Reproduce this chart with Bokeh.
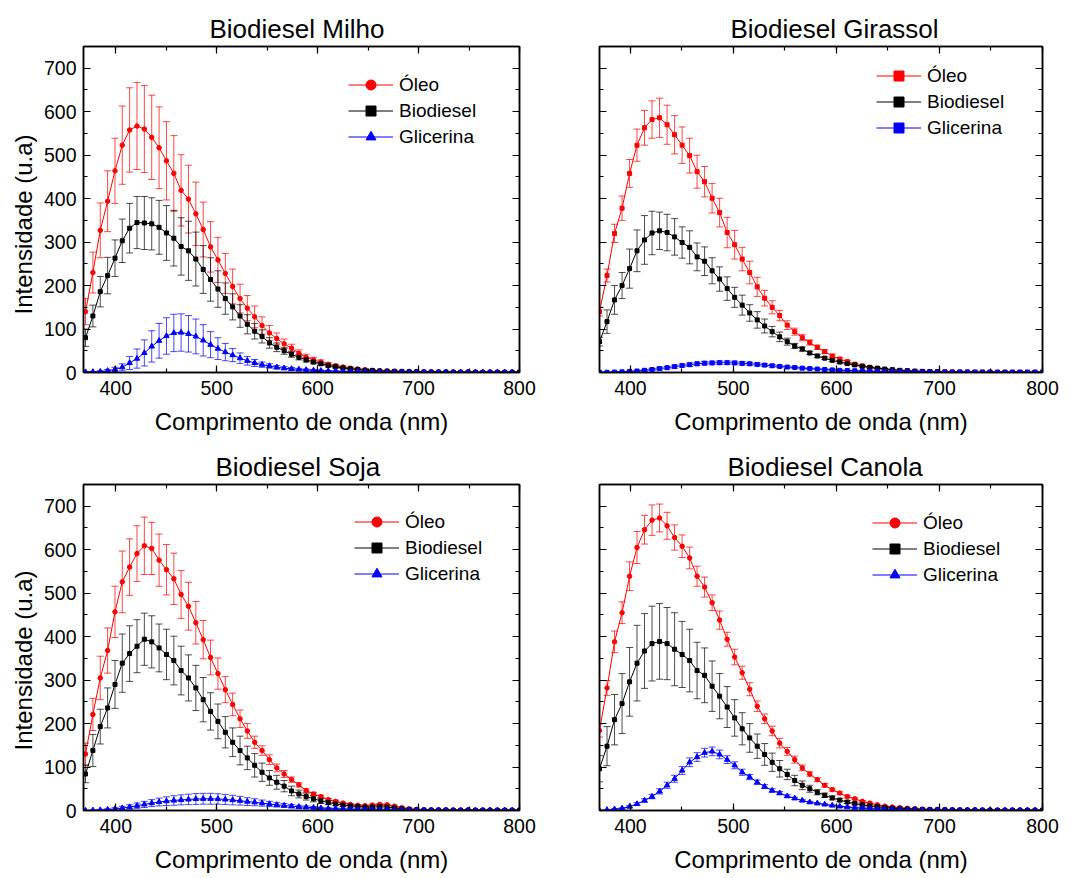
from bokeh.plotting import figure
from bokeh.models import (ColumnDataSource, Whisker, TeeHead, Legend, LegendItem,
                          LinearAxis, Range1d, SingleIntervalTicker, Title,
                          CustomJSTickFormatter)
from bokeh.layouts import column, row
from bokeh.embed import file_html
from bokeh.resources import INLINE

FONT = "Liberation Sans"

wavelength = [370.0, 377.3, 384.6, 391.9, 399.2, 406.4, 413.7, 421.0, 428.3, 435.6,
              442.9, 450.2, 457.5, 464.7, 472.0, 479.3, 486.6, 493.9, 501.2, 508.5,
              515.8, 523.1, 530.3, 537.6, 544.9, 552.2, 559.5, 566.8, 574.1, 581.4,
              588.6, 595.9, 603.2, 610.5, 617.8, 625.1, 632.4, 639.7, 646.9, 654.2,
              661.5, 668.8, 676.1, 683.4, 690.7, 698.0, 705.3, 712.5, 719.8, 727.1,
              734.4, 741.7, 749.0, 756.3, 763.6, 770.8, 778.1, 785.4, 792.7, 800.0]

series_names = ["Óleo", "Biodiesel", "Glicerina"]

# ---------------- Biodiesel Milho ----------------
milho_oleo = [140, 230, 327, 394, 464, 523, 558, 567, 560, 541,
              517, 487, 458, 419, 399, 365, 329, 289, 259, 228,
              198, 170, 148, 128, 108, 91, 78, 66, 56, 44,
              35, 29, 24, 19, 15.5, 12.5, 10, 8, 6, 5,
              4, 3.5, 3, 2.5, 2, 2, 1.5, 1.5, 1, 1,
              1, 1, 1, 1, 0.5, 0.5, 0.5, 0.5, 0.5, 0.5]
milho_oleo_err = [30, 47, 63, 70, 75, 90, 97, 100, 100, 97,
                  94, 90, 87, 82, 78, 73, 63, 58, 52, 46,
                  40, 33, 29, 25, 20, 17, 13, 11, 9, 8,
                  7, 6, 5, 4, 3.5, 3, 2.5, 2, 2, 1.5,
                  1, 1, 1, 1, 1, 1, 1, 1, 1, 1,
                  1, 1, 1, 1, 1, 1, 1, 1, 1, 1]
milho_bio = [80, 130, 186, 223, 263, 303, 332, 345, 344, 342,
             334, 321, 309, 290, 280, 261, 237, 214, 192, 170,
             151, 130, 111, 95, 83, 68, 58, 50, 42, 35,
             29, 24, 20, 16, 13, 10.5, 8.5, 7, 5.5, 4.5,
             3.5, 3, 2.5, 2, 1.5, 1.5, 1, 1, 1, 1,
             0.5, 0.5, 0.5, 0.5, 0.5, 0.5, 0.5, 0.5, 0.5, 0.5]
milho_bio_err = [20, 25, 35, 42, 42, 50, 57, 60, 61, 60,
                 62, 63, 64, 66, 68, 62, 55, 50, 42, 36,
                 30, 26, 22, 18, 15, 12, 10, 8, 7, 6,
                 5, 4, 3.5, 3, 2.5, 2, 2, 1.5, 1.5, 1,
                 1, 1, 1, 1, 1, 1, 1, 1, 1, 1,
                 0.5, 0.5, 0.5, 0.5, 0.5, 0.5, 0.5, 0.5, 0.5, 0.5]
milho_gli = [1, 1.5, 2, 4, 7, 12, 22, 32, 45, 60,
             73, 84, 91, 92, 89, 83, 74, 64, 55, 47,
             40, 33, 27, 22, 18, 15, 12, 10, 8.5, 7,
             6, 5, 4, 3.5, 3, 2.5, 2, 2, 1.5, 1.5,
             1, 1, 1, 1, 1, 0.5, 0.5, 0.5, 0.5, 0.5,
             0.5, 0.5, 0.5, 0.5, 0.5, 0.5, 0.5, 0.5, 0.5, 0.5]
milho_gli_err = [1, 1, 2, 3, 5, 8, 15, 22, 30, 36,
                 40, 42, 43, 43, 42, 40, 36, 30, 25, 20,
                 15, 12, 10, 8, 6, 5, 4, 3.5, 3, 2.5,
                 2, 2, 1.5, 1.5, 1, 1, 1, 1, 1, 1,
                 0.5, 0.5, 0.5, 0.5, 0.5, 0.5, 0.5, 0.5, 0.5, 0.5,
                 0.5, 0.5, 0.5, 0.5, 0.5, 0.5, 0.5, 0.5, 0.5, 0.5]

# ---------------- Biodiesel Girassol ----------------
girassol_oleo = [140, 223, 320, 378, 458, 523, 563, 582, 586, 570,
                 547, 523, 499, 462, 439, 401, 368, 322, 294, 261,
                 230, 197, 171, 150, 131, 109, 94, 80, 69, 58,
                 48, 38, 31, 25, 19, 15, 11.5, 9, 7, 5.5,
                 4.5, 3.8, 3, 2.5, 2, 1.5, 1.5, 1, 1, 1,
                 1, 1, 0.5, 0.5, 0.5, 0.5, 0.5, 0.5, 0.5, 0.5]
girassol_oleo_err = [10, 15, 21, 28, 32, 37, 40, 43, 45, 45,
                     44, 42, 40, 38, 35, 34, 33, 35, 33, 27,
                     26, 22, 18, 15, 12, 10, 8, 7, 6, 5,
                     4, 4, 3, 3, 2, 2, 1.5, 1.5, 1, 1,
                     1, 1, 1, 1, 1, 1, 1, 1, 1, 1,
                     1, 1, 1, 1, 1, 1, 1, 1, 1, 1]
girassol_bio = [71, 117, 167, 200, 239, 280, 305, 321, 326, 322,
                312, 299, 288, 266, 256, 234, 215, 193, 173, 155,
                137, 121, 107, 94, 82, 71, 61, 54, 45, 38,
                33, 28, 24, 20.5, 17.5, 14.5, 12, 10, 8, 6.5,
                5, 4, 3, 2.5, 2, 1.5, 1, 1, 1, 1,
                0.5, 0.5, 0.5, 0.5, 0.5, 0.5, 0.5, 0.5, 0.5, 0.5]
girassol_bio_err = [10, 27, 33, 30, 45, 48, 56, 50, 43, 42,
                    42, 36, 38, 32, 33, 30, 28, 27, 23, 23,
                    19, 19, 16, 12, 11, 8, 6, 5, 4, 4,
                    3, 3, 2.5, 2, 2, 1.5, 1.5, 1, 1, 1,
                    1, 1, 1, 1, 1, 1, 1, 1, 1, 1,
                    0.5, 0.5, 0.5, 0.5, 0.5, 0.5, 0.5, 0.5, 0.5, 0.5]
girassol_gli = [0.5, 0.5, 1, 1.5, 2.5, 3.5, 5, 7, 9, 11,
                13.5, 16, 18, 20, 21.5, 22, 22.5, 22.5, 22, 21,
                20, 18.5, 17, 15.5, 14, 12.5, 11.5, 10, 9, 8,
                7, 6, 5, 4.5, 4, 3.5, 3, 2.5, 2, 2,
                1.5, 1.5, 1, 1, 1, 1, 0.5, 0.5, 0.5, 0.5,
                0.5, 0.5, 0.5, 0.5, 0.5, 0.5, 0.5, 0.5, 0.5, 0.5]
girassol_gli_err = [0.5, 0.5, 0.5, 1, 1, 1.5, 2, 2.5, 3, 3,
                    3.5, 3.5, 4, 4, 4, 4, 4, 4, 4, 4,
                    3.5, 3.5, 3, 3, 2.5, 2.5, 2, 2, 2, 1.5,
                    1.5, 1.5, 1, 1, 1, 1, 1, 1, 1, 1,
                    0.5, 0.5, 0.5, 0.5, 0.5, 0.5, 0.5, 0.5, 0.5, 0.5,
                    0.5, 0.5, 0.5, 0.5, 0.5, 0.5, 0.5, 0.5, 0.5, 0.5]

# ---------------- Biodiesel Soja ----------------
soja_oleo = [130, 221, 305, 368, 457, 526, 560, 591, 609, 603,
             576, 554, 533, 497, 470, 432, 393, 352, 315, 278,
             244, 211, 183, 157, 138, 117, 98, 84, 71, 59,
             46, 38, 32, 25, 21, 17, 14, 12, 11, 12.5,
             14, 13, 10, 6.5, 4, 2.5, 1.5, 1, 1, 1,
             0.5, 0.5, 0.5, 0.5, 0.5, 0.5, 0.5, 0.5, 0.5, 0.5]
soja_oleo_err = [25, 37, 50, 52, 59, 71, 65, 64, 66, 60,
                 60, 58, 59, 55, 55, 49, 44, 40, 36, 30,
                 26, 20, 17, 14, 11, 11, 9, 8, 6, 5,
                 4, 4, 3, 3, 2.5, 2, 2, 2, 2, 2,
                 2, 2, 2, 1.5, 1.5, 1, 1, 1, 1, 1,
                 1, 1, 1, 1, 1, 1, 1, 1, 1, 1]
soja_bio = [84, 138, 193, 236, 290, 339, 361, 378, 394, 388,
            374, 359, 345, 322, 305, 282, 255, 228, 205, 180,
            157, 138, 121, 104, 88, 75, 65, 56, 45, 38,
            32, 27, 22, 18.5, 15, 12.5, 10.5, 9, 8, 8,
            8.5, 8, 6, 4, 2.5, 1.5, 1, 1, 1, 1,
            0.5, 0.5, 0.5, 0.5, 0.5, 0.5, 0.5, 0.5, 0.5, 0.5]
soja_bio_err = [20, 37, 40, 46, 55, 67, 64, 61, 60, 60,
                55, 58, 56, 56, 53, 52, 51, 43, 40, 36,
                33, 33, 27, 27, 21, 17, 16, 13, 11, 9,
                8, 7, 6, 5, 4, 3.5, 3, 3, 3, 3,
                3, 3, 2.5, 2, 1.5, 1, 1, 1, 1, 1,
                0.5, 0.5, 0.5, 0.5, 0.5, 0.5, 0.5, 0.5, 0.5, 0.5]
soja_gli = [0, 0.5, 1, 2, 3.5, 5.5, 8, 11, 14, 17,
            19.5, 21.5, 23, 24.5, 25.5, 26.5, 27, 27, 26.5, 25.5,
            24, 22.5, 20.5, 19, 17, 15, 13, 11.5, 10, 8.5,
            7.5, 6.5, 5.5, 4.5, 4, 3.5, 3, 2.5, 2, 2,
            1.5, 1.5, 1, 1, 1, 1, 0.5, 0.5, 0.5, 0.5,
            0.5, 0.5, 0.5, 0.5, 0.5, 0.5, 0.5, 0.5, 0.5, 0.5]
soja_gli_err = [0.5, 1, 1.5, 2, 3, 4, 5, 6, 7, 8,
                9, 10, 11, 11.5, 12, 12.5, 12.5, 12.5, 12, 11.5,
                11, 10, 9, 8, 7, 6, 5, 4.5, 4, 3.5,
                3, 2.5, 2, 2, 1.5, 1.5, 1, 1, 1, 1,
                0.5, 0.5, 0.5, 0.5, 0.5, 0.5, 0.5, 0.5, 0.5, 0.5,
                0.5, 0.5, 0.5, 0.5, 0.5, 0.5, 0.5, 0.5, 0.5, 0.5]

# ---------------- Biodiesel Canola ----------------
canola_oleo = [184, 282, 388, 455, 539, 605, 646, 668, 673, 655,
               628, 608, 581, 539, 514, 478, 438, 394, 353, 317,
               279, 240, 211, 183, 155, 136, 117, 98, 84, 71,
               58, 48, 40, 32, 27, 21, 17, 13, 10, 8,
               6.5, 5, 4, 3, 2.5, 2, 1.5, 1.5, 1, 1,
               1, 1, 0.5, 0.5, 0.5, 0.5, 0.5, 0.5, 0.5, 0.5]
canola_oleo_err = [15, 17, 25, 25, 33, 37, 33, 35, 32, 31,
                   29, 26, 25, 23, 23, 18, 21, 16, 18, 15,
                   15, 12, 11, 11, 11, 9, 8, 6.5, 5, 4.5,
                   4, 3.5, 3, 3, 2.5, 2, 2, 1.5, 1.5, 1,
                   1, 1, 1, 1, 1, 1, 1, 1, 1, 1,
                   1, 1, 1, 1, 1, 1, 1, 1, 1, 1]
canola_bio = [96, 148, 209, 246, 296, 339, 367, 384, 389, 384,
              371, 359, 345, 322, 311, 286, 263, 238, 213, 188,
              167, 148, 129, 111, 96, 83, 69, 58, 50, 42,
              35, 29, 24, 19.5, 16, 13, 10.5, 8.5, 7, 5.5,
              4.5, 3.5, 3, 2.5, 2, 1.5, 1.5, 1, 1, 1,
              1, 0.5, 0.5, 0.5, 0.5, 0.5, 0.5, 0.5, 0.5, 0.5]
canola_bio_err = [30, 45, 58, 69, 79, 87, 86, 86, 87, 83,
                  84, 76, 72, 65, 63, 58, 52, 47, 42, 37,
                  33, 28, 25, 21, 19, 12, 12, 10, 8, 6,
                  5, 4.5, 4, 3.5, 3, 2.5, 2, 2, 1.5, 1.5,
                  1, 1, 1, 1, 1, 1, 1, 1, 1, 1,
                  0.5, 0.5, 0.5, 0.5, 0.5, 0.5, 0.5, 0.5, 0.5, 0.5]
canola_gli = [0, 1.5, 3, 5, 9, 15, 23, 32, 44, 58,
              73, 92, 111, 123, 133, 136, 129, 117, 104, 88,
              77, 65, 55, 46, 40, 33, 28, 23, 19, 16.5,
              14, 11.5, 9.5, 8, 6.5, 5.5, 4.5, 3.5, 3, 2.5,
              2, 1.5, 1.5, 1, 1, 1, 1, 1, 0.5, 0.5,
              0.5, 0.5, 0.5, 0.5, 0.5, 0.5, 0.5, 0.5, 0.5, 0.5]
canola_gli_err = [0.5, 0.5, 1, 1, 2, 3, 4, 5, 6, 7,
                  8, 9, 10, 10, 10, 10, 10, 9, 8, 7,
                  6, 5, 4.5, 4, 3.5, 3, 2.5, 2, 2, 1.5,
                  1.5, 1.5, 1, 1, 1, 1, 1, 1, 1, 1,
                  0.5, 0.5, 0.5, 0.5, 0.5, 0.5, 0.5, 0.5, 0.5, 0.5,
                  0.5, 0.5, 0.5, 0.5, 0.5, 0.5, 0.5, 0.5, 0.5, 0.5]

COLORS = ["#FF0000", "#000000", "#0000FF"]
ERR_ALPHA = [0.72, 0.7, 0.72]
MARKER_SIZE = {"circle": 4.5, "square": 4, "triangle": 5.5}


def style_axis(ax, labels=True):
    ax.axis_line_color = "black"
    ax.axis_line_width = 1.5
    ax.major_tick_line_color = "black"
    ax.minor_tick_line_color = "black"
    ax.major_tick_line_width = 1.2
    ax.minor_tick_line_width = 1.2
    ax.major_tick_in = 7
    ax.major_tick_out = 0
    ax.minor_tick_in = 4
    ax.minor_tick_out = 0
    ax.major_label_text_font = FONT
    ax.major_label_text_color = "black"
    if labels:
        ax.major_label_text_font_size = "19.5px"
    else:
        ax.formatter = CustomJSTickFormatter(code="return ''")
        ax.major_label_text_font_size = "0px"
        ax.major_label_standoff = 0


def make_panel(title, data, markers, show_ylab, x_start, frame_w, borders,
               legend_loc, title_offset, ylab_offset):
    bl, br, bt, bb = borders
    p = figure(frame_width=frame_w, frame_height=326,
               x_range=Range1d(x_start, 800), y_range=Range1d(0, 750),
               output_backend="svg", toolbar_location=None,
               min_border_left=bl, min_border_right=br,
               min_border_top=bt, min_border_bottom=bb)
    p.xgrid.visible = False
    p.ygrid.visible = False
    p.outline_line_color = "black"
    p.outline_line_width = 1.5
    p.background_fill_color = "white"
    p.border_fill_color = "white"

    p.title.text = title
    p.title.align = "left"
    p.title.text_font = FONT
    p.title.text_font_size = "26px"
    p.title.text_font_style = "normal"
    p.title.text_color = "black"
    p.title.offset = title_offset
    p.title.standoff = 5

    xa = p.xaxis[0]
    ya = p.yaxis[0]
    xa.ticker = SingleIntervalTicker(interval=100, num_minor_ticks=2)
    ya.ticker = SingleIntervalTicker(interval=100, num_minor_ticks=2)
    style_axis(xa)
    style_axis(ya, labels=show_ylab)
    xa.major_label_standoff = 8
    ya.major_label_standoff = 7
    xa.axis_label = "Comprimento de onda (nm)"
    xa.axis_label_text_font = FONT
    xa.axis_label_text_font_size = "24px"
    xa.axis_label_text_font_style = "normal"
    xa.axis_label_text_color = "black"
    xa.axis_label_standoff = 10

    top = LinearAxis(ticker=SingleIntervalTicker(interval=100, num_minor_ticks=2))
    style_axis(top, labels=False)
    p.add_layout(top, "above")
    right = LinearAxis(ticker=SingleIntervalTicker(interval=100, num_minor_ticks=2))
    style_axis(right, labels=False)
    p.add_layout(right, "right")

    if show_ylab:
        yl = Title(text="Intensidade (u.a)", align="left", text_font=FONT,
                   text_font_size="24px", text_font_style="normal",
                   text_color="black", offset=ylab_offset, standoff=8)
        p.add_layout(yl, "left")

    items = []
    for (vals, errs), name, color, ea, mk in zip(data, series_names, COLORS, ERR_ALPHA, markers):
        src = ColumnDataSource(dict(
            x=wavelength, y=vals,
            upper=[v + e for v, e in zip(vals, errs)],
            lower=[v - e for v, e in zip(vals, errs)]))
        w = Whisker(source=src, base="x", upper="upper", lower="lower",
                    line_color=color, line_alpha=ea, line_width=1,
                    upper_head=TeeHead(size=7, line_color=color, line_alpha=ea, line_width=1),
                    lower_head=TeeHead(size=7, line_color=color, line_alpha=ea, line_width=1),
                    level="underlay")
        p.add_layout(w)
        ln = p.line("x", "y", source=src, line_color=color, line_width=1)
        sc = p.scatter("x", "y", source=src, marker=mk, size=MARKER_SIZE[mk],
                       fill_color=color, line_color=color)
        items.append(LegendItem(label=name, renderers=[ln, sc]))

    leg = Legend(items=items, location=legend_loc, border_line_alpha=0,
                 background_fill_alpha=0, padding=0, margin=0, spacing=1,
                 glyph_width=45, glyph_height=25, label_height=25,
                 label_standoff=6, label_text_font=FONT,
                 label_text_font_size="19px", label_text_color="black")
    p.add_layout(leg)
    return p


p_milho = make_panel("Biodiesel Milho",
                     [(milho_oleo, milho_oleo_err), (milho_bio, milho_bio_err), (milho_gli, milho_gli_err)],
                     ["circle", "square", "triangle"], True, 368, 436, (83, 17, 46, 67),
                     (265, 223), 126, 58)
p_girassol = make_panel("Biodiesel Girassol",
                        [(girassol_oleo, girassol_oleo_err), (girassol_bio, girassol_bio_err), (girassol_gli, girassol_gli_err)],
                        ["square", "square", "square"], False, 370, 443, (63, 30, 46, 67),
                        (277, 232), 131, 0)
p_soja = make_panel("Biodiesel Soja",
                    [(soja_oleo, soja_oleo_err), (soja_bio, soja_bio_err), (soja_gli, soja_gli_err)],
                    ["circle", "square", "triangle"], True, 368, 436, (83, 17, 45, 68),
                    (271, 224), 132, 60)
p_canola = make_panel("Biodiesel Canola",
                      [(canola_oleo, canola_oleo_err), (canola_bio, canola_bio_err), (canola_gli, canola_gli_err)],
                      ["circle", "square", "triangle"], False, 370, 443, (63, 30, 45, 68),
                      (273, 223), 128, 0)

layout = column(row(p_milho, p_girassol, spacing=0), row(p_soja, p_canola, spacing=0), spacing=0)

with open("out.html", "w") as f:
    f.write(file_html(layout, INLINE))
